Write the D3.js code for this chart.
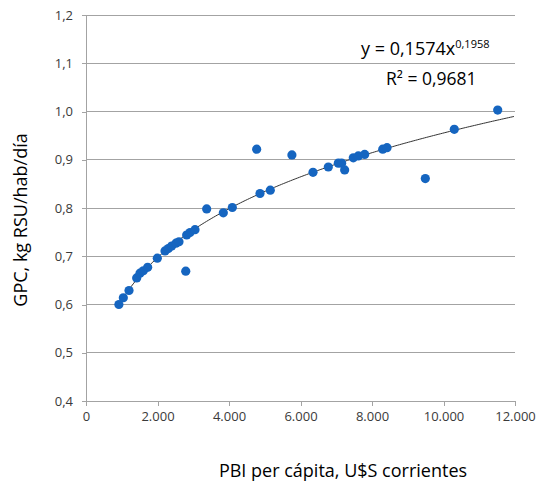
<!DOCTYPE html>
<html><head><meta charset="utf-8">
<script src="https://cdn.jsdelivr.net/npm/d3@7"></script>
<style>body{margin:0;background:#fff;} text{font-family:"Open Sans",sans-serif;}</style>
</head><body>
<svg id="c" width="536" height="487"></svg>
<script>
const pbi = [920, 1044, 1203, 1418, 1510, 1603, 1725, 1995, 2210, 2303, 2396, 2517, 2601, 2790, 2816, 2909, 3049, 3376, 3841, 4093, 4774, 4867, 5155, 5760, 6350, 6778, 7058, 7150, 7235, 7477, 7617, 7795, 8300, 8420, 9491, 10302, 11516];
const gpc = [0.600, 0.614, 0.629, 0.655, 0.665, 0.670, 0.677, 0.696, 0.711, 0.716, 0.721, 0.727, 0.730, 0.669, 0.744, 0.749, 0.755, 0.798, 0.790, 0.801, 0.922, 0.830, 0.837, 0.910, 0.874, 0.885, 0.893, 0.893, 0.879, 0.904, 0.908, 0.911, 0.922, 0.925, 0.861, 0.963, 1.003];
const xTicks = [0, 2000, 4000, 6000, 8000, 10000, 12000];
const yTicks = [0.4, 0.5, 0.6, 0.7, 0.8, 0.9, 1.0, 1.1, 1.2];
const coefA = 0.1574, coefB = 0.1958;
const eqText = "y = 0,1574x", eqExp = "0,1958", r2Text = "R² = 0,9681";
const xTitle = "PBI per cápita, U$S corrientes";
const yTitle = "GPC, kg RSU/hab/día";

const svg = d3.select("#c");
const x = d3.scaleLinear().domain([0, 12000]).range([86, 515]);
const y = d3.scaleLinear().domain([0.4, 1.2]).range([401, 15]);
const fmtX = d => d === 0 ? "0" : d3.format(",")(d).replace(/,/g, ".");
const fmtY = d => d3.format(".1f")(d).replace(".", ",");
const gridCol = "#a3a3a3", txtCol = "#3a3a3a";

// horizontal gridlines
svg.append("g").selectAll("line").data(yTicks.filter(d => d > 0.4)).join("line")
  .attr("x1", x(0)).attr("x2", x(12000)).attr("y1", d => y(d)).attr("y2", d => y(d))
  .attr("stroke", gridCol).attr("stroke-width", 1).attr("shape-rendering", "crispEdges");

const ya = svg.append("g").attr("transform", `translate(${x(0)},0)`)
  .call(d3.axisLeft(y).tickValues(yTicks).tickFormat(fmtY).tickSize(4).tickPadding(9));
const xa = svg.append("g").attr("transform", `translate(0,${y(0.4)})`)
  .call(d3.axisBottom(x).tickValues(xTicks).tickFormat(fmtX).tickSize(5).tickPadding(6));
[ya, xa].forEach(g => {
  g.select(".domain").attr("stroke", gridCol).attr("shape-rendering", "crispEdges");
  g.selectAll(".tick line").attr("stroke", gridCol).attr("shape-rendering", "crispEdges");
  g.selectAll("text").attr("fill", txtCol).style("font-size", "13px").style("font-family", "'Open Sans',sans-serif");
});

// trend line
const xs = d3.range(d3.min(pbi), 12000 + 1, 50);
svg.append("path").datum(xs)
  .attr("d", d3.line().x(d => x(d)).y(d => y(coefA * Math.pow(d, coefB))))
  .attr("fill", "none").attr("stroke", "#333").attr("stroke-width", 1);

// points
svg.append("g").selectAll("circle").data(pbi.map((d, i) => [d, gpc[i]])).join("circle")
  .attr("cx", d => x(d[0])).attr("cy", d => y(d[1])).attr("r", 4.6)
  .attr("fill", "#1565c0");

// equation
const eq = svg.append("text").attr("x", 361).attr("y", 55).attr("fill", "#000").style("font-size", "18px");
eq.append("tspan").text(eqText);
eq.append("tspan").attr("dy", -7).style("font-size", "11px").text(eqExp);
svg.append("text").attr("x", 386).attr("y", 85).attr("fill", "#000").style("font-size", "17.5px").text(r2Text);

// titles
svg.append("text").attr("x", 343).attr("y", 477).attr("text-anchor", "middle")
  .attr("fill", "#000").style("font-size", "18px").text(xTitle);
svg.append("text").attr("transform", "translate(27,220) rotate(-90)").attr("text-anchor", "middle")
  .attr("fill", "#000").style("font-size", "18px").text(yTitle);
</script>
</body></html>
